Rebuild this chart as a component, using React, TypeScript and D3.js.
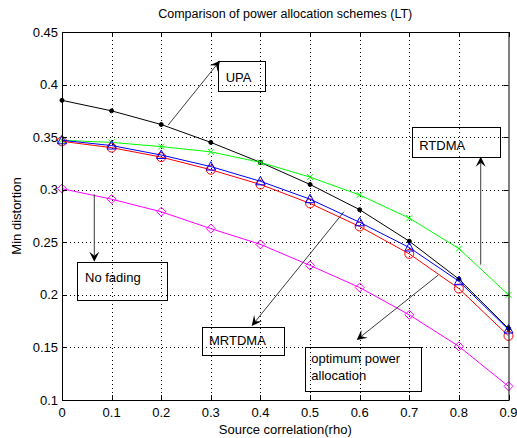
import { useEffect, useRef } from "react";
import * as d3 from "d3";

const rho = [0, 0.1, 0.2, 0.3, 0.4, 0.5, 0.6, 0.7, 0.8, 0.9];

const upa = [0.385, 0.375, 0.362, 0.345, 0.326, 0.305, 0.281, 0.251, 0.215, 0.168];
const rtdma = [0.347, 0.345, 0.341, 0.336, 0.326, 0.312, 0.295, 0.273, 0.244, 0.2];
const mrtdma = [0.347, 0.342, 0.333, 0.322, 0.308, 0.291, 0.269, 0.245, 0.213, 0.167];
const optimum = [0.346, 0.34, 0.331, 0.319, 0.305, 0.287, 0.265, 0.239, 0.206, 0.161];
const noFading = [0.301, 0.291, 0.279, 0.263, 0.248, 0.228, 0.207, 0.181, 0.151, 0.113];

const xTicks = [0, 0.1, 0.2, 0.3, 0.4, 0.5, 0.6, 0.7, 0.8, 0.9];
const yTicks = [0.1, 0.15, 0.2, 0.25, 0.3, 0.35, 0.4, 0.45];

// annotations in data units: arrow tail -> head, box corners, text lines
const notes = [
    { lines: ["UPA"], from: [0.214, 0.3615], to: [0.3185, 0.4227], box: [0.315, 0.4224, 0.4106, 0.3939], text: [0.33, 0.4025] },
    { lines: ["RTDMA"], from: [0.844, 0.2287], to: [0.844, 0.3314], box: [0.7055, 0.3599, 0.8829, 0.3314], text: [0.72, 0.3378] },
    { lines: ["No fading"], from: [0.0651, 0.2956], to: [0.0651, 0.2315], box: [0.0308, 0.2309, 0.2131, 0.1951], text: [0.0464, 0.2125] },
    { lines: ["MRTDMA"], from: [0.5684, 0.2791], to: [0.3824, 0.1704], box: [0.2816, 0.1691, 0.4461, 0.1428], text: [0.2963, 0.1523] },
    { lines: ["optimum power", "allocation"], from: [0.7585, 0.2189], to: [0.594, 0.1571], box: [0.4892, 0.1507, 0.7236, 0.1088], text: [0.5025, 0.1349] },
];

const W = 517;
const H = 438;

const App = () => {
    const svgRef = useRef(null);

    useEffect(() => {
        const svg = d3.select(svgRef.current);
        svg.selectAll("*").remove();

        const x = d3.scaleLinear().domain([0, 0.9]).range([62, 508.5]);
        const y = d3.scaleLinear().domain([0.1, 0.45]).range([400, 32]);
        const font = "'Liberation Sans', Arial, sans-serif";

        svg.append("rect").attr("width", W).attr("height", H).attr("fill", "#fff");

        // grid
        const grid = svg.append("g").attr("stroke", "#000").attr("stroke-width", 1).attr("stroke-dasharray", "1,3");
        grid.selectAll("line.gx")
            .data(xTicks.slice(1, -1))
            .join("line")
            .attr("class", "gx")
            .attr("x1", (d) => Math.round(x(d)) + 0.5)
            .attr("x2", (d) => Math.round(x(d)) + 0.5)
            .attr("y1", y(0.45))
            .attr("y2", y(0.1));
        grid.selectAll("line.gy")
            .data(yTicks.slice(1, -1))
            .join("line")
            .attr("class", "gy")
            .attr("y1", (d) => Math.round(y(d)) + 0.5)
            .attr("y2", (d) => Math.round(y(d)) + 0.5)
            .attr("x1", x(0))
            .attr("x2", x(0.9));

        // series
        const line = d3.line().x((d) => x(d[0])).y((d) => y(d[1]));
        const series = [
            { vals: upa, color: "#000000", marker: "dot" },
            { vals: rtdma, color: "#00ff00", marker: "x" },
            { vals: optimum, color: "#ff0000", marker: "circle" },
            { vals: mrtdma, color: "#0000ff", marker: "triangle" },
            { vals: noFading, color: "#ff00ff", marker: "diamond" },
        ];
        series.forEach((s) => {
            const pts = rho.map((r, i) => [r, s.vals[i]]);
            svg.append("path")
                .attr("d", line(pts))
                .attr("fill", "none")
                .attr("stroke", s.color)
                .attr("stroke-width", 1);
            const g = svg.append("g").attr("stroke", s.color).attr("fill", "none").attr("stroke-width", 1);
            pts.forEach(([a, b]) => {
                const cx = x(a);
                const cy = y(b);
                if (s.marker === "dot") {
                    g.append("circle").attr("cx", cx).attr("cy", cy).attr("r", 2).attr("fill", s.color);
                } else if (s.marker === "x") {
                    g.append("path").attr("d", `M${cx - 3},${cy - 3}L${cx + 3},${cy + 3}M${cx - 3},${cy + 3}L${cx + 3},${cy - 3}`);
                } else if (s.marker === "circle") {
                    g.append("circle").attr("cx", cx).attr("cy", cy).attr("r", 4.5);
                } else if (s.marker === "triangle") {
                    g.append("path").attr("d", `M${cx},${cy - 5}L${cx + 4.5},${cy + 3.5}L${cx - 4.5},${cy + 3.5}Z`);
                } else {
                    g.append("path").attr("d", `M${cx},${cy - 4.5}L${cx + 4.5},${cy}L${cx},${cy + 4.5}L${cx - 4.5},${cy}Z`);
                }
            });
        });

        // axes box and ticks
        const ax = svg.append("g").attr("stroke", "#000").attr("stroke-width", 1);
        ax.append("rect")
            .attr("x", x(0) + 0.5)
            .attr("y", y(0.45) + 0.5)
            .attr("width", x(0.9) - x(0))
            .attr("height", y(0.1) - y(0.45))
            .attr("fill", "none");
        xTicks.forEach((t) => {
            const px = Math.round(x(t)) + 0.5;
            ax.append("line").attr("x1", px).attr("x2", px).attr("y1", y(0.1)).attr("y2", y(0.1) - 5);
            ax.append("line").attr("x1", px).attr("x2", px).attr("y1", y(0.45)).attr("y2", y(0.45) + 5);
        });
        yTicks.forEach((t) => {
            const py = Math.round(y(t)) + 0.5;
            ax.append("line").attr("y1", py).attr("y2", py).attr("x1", x(0)).attr("x2", x(0) + 5);
            ax.append("line").attr("y1", py).attr("y2", py).attr("x1", x(0.9)).attr("x2", x(0.9) - 5);
        });

        const txt = svg.append("g").attr("font-family", font).attr("font-size", 13).attr("fill", "#000");
        txt.selectAll("text.xt")
            .data(xTicks)
            .join("text")
            .attr("class", "xt")
            .attr("x", (d) => x(d))
            .attr("y", y(0.1) + 17)
            .attr("text-anchor", "middle")
            .text((d) => d3.format("")(d));
        txt.selectAll("text.yt")
            .data(yTicks)
            .join("text")
            .attr("class", "yt")
            .attr("x", x(0) - 4)
            .attr("y", (d) => y(d) + 4.5)
            .attr("text-anchor", "end")
            .text((d) => d3.format("")(d));

        txt.append("text")
            .attr("x", (x(0) + x(0.9)) / 2)
            .attr("y", 434)
            .attr("text-anchor", "middle")
            .text("Source correlation(rho)");
        txt.append("text")
            .attr("transform", `translate(21, ${(y(0.1) + y(0.45)) / 2}) rotate(-90)`)
            .attr("text-anchor", "middle")
            .text("Min distortion");
        txt.append("text")
            .attr("x", (x(0) + x(0.9)) / 2)
            .attr("y", 18)
            .attr("text-anchor", "middle")
            .attr("font-size", 12.5)
            .text("Comparison of power allocation schemes (LT)");

        // annotations
        const ann = svg.append("g");
        notes.forEach((n) => {
            const x1 = x(n.from[0]);
            const y1 = y(n.from[1]);
            const x2 = x(n.to[0]);
            const y2 = y(n.to[1]);
            const ang = Math.atan2(y2 - y1, x2 - x1);
            const L = 10;
            const hw = 5;
            const bx = x2 - L * Math.cos(ang);
            const by = y2 - L * Math.sin(ang);
            const nx = x2 - L * 0.6 * Math.cos(ang);
            const ny = y2 - L * 0.6 * Math.sin(ang);
            const px = -Math.sin(ang) * hw;
            const py = Math.cos(ang) * hw;
            ann.append("line")
                .attr("x1", x1).attr("y1", y1)
                .attr("x2", nx).attr("y2", ny)
                .attr("stroke", "#3a3a3a")
                .attr("stroke-width", 1);
            ann.append("path")
                .attr("d", `M${x2},${y2}L${bx + px},${by + py}L${nx},${ny}L${bx - px},${by - py}Z`)
                .attr("fill", "#000");
            ann.append("rect")
                .attr("x", Math.round(x(n.box[0])) + 0.5)
                .attr("y", Math.round(y(n.box[1])) + 0.5)
                .attr("width", Math.round(x(n.box[2]) - x(n.box[0])))
                .attr("height", Math.round(y(n.box[3]) - y(n.box[1])))
                .attr("fill", "none")
                .attr("stroke", "#000")
                .attr("stroke-width", 1);
            n.lines.forEach((l, i) => {
                ann.append("text")
                    .attr("x", x(n.text[0]))
                    .attr("y", y(n.text[1]) + i * 16.5)
                    .attr("font-family", font)
                    .attr("font-size", 13)
                    .text(l);
            });
        });
    }, []);

    return (
        <svg
            ref={svgRef}
            width={W}
            height={H}
            style={{ position: "absolute", left: 0, top: 0, display: "block" }}
        ></svg>
    );
};

export default App;
